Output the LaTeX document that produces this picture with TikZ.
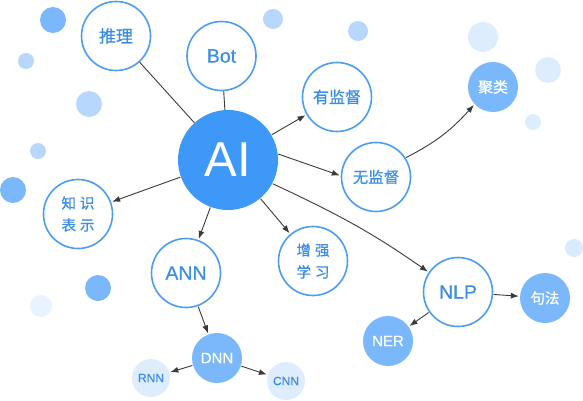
\documentclass[tikz,border=0pt]{standalone}
\usepackage{fontspec}
\setmainfont{Liberation Sans}
\newfontfamily\latn[FakeBold=0.4]{Liberation Sans}
\newfontfamily\cjk[FakeBold=0.7]{Noto Sans CJK SC}
\usetikzlibrary{arrows.meta}
\definecolor{outl}{HTML}{4A9CF4}
\definecolor{txt}{HTML}{3B8DE6}
\definecolor{aiblue}{HTML}{3D98F8}
\definecolor{midblue}{HTML}{7AB8FB}
\definecolor{lightblue}{HTML}{B7D7FD}
\definecolor{paleblue}{HTML}{DDEDFE}
\definecolor{conn}{HTML}{3A3A3A}
\begin{document}
\begin{tikzpicture}[x=1pt,y=-1pt,
  ring/.style={circle,draw=outl,line width=1.6pt,fill=white,text=txt,inner sep=0pt,minimum size=69pt},
  solidbig/.style={circle,fill=aiblue,text=white,inner sep=0pt,minimum size=100pt},
  solidmid/.style={circle,fill=midblue,text=white,inner sep=0pt,minimum size=50pt},
  solidpale/.style={circle,fill=paleblue,text=txt,inner sep=0pt,minimum size=38pt},
  latinL/.style={font=\latn\fontsize{19.5}{22}\selectfont},
  cjkL/.style={font=\cjk\fontsize{17}{20}\selectfont},
  cjkM/.style={font=\cjk\fontsize{15.5}{18}\selectfont},
  cjkTwo/.style={font=\cjk\fontsize{14.5}{22}\selectfont,align=center},
  plainline/.style={draw=conn,line width=0.9pt},
  arr/.style={draw=conn,line width=0.9pt,-{Latex[length=8pt,width=6pt]},shorten >=1pt,shorten <=0.5pt}
]
\useasboundingbox (0,0) rectangle (583,400);
% decorative dots
\fill[midblue] (53,20) circle (13pt);
\fill[lightblue] (26,61) circle (8pt);
\fill[lightblue] (89,104) circle (13pt);
\fill[lightblue] (38,151) circle (8pt);
\fill[midblue] (13,190) circle (13pt);
\fill[midblue] (98,288) circle (13pt);
\fill[paleblue!70!white] (41,306) circle (11pt);
\fill[lightblue] (273,19) circle (10pt);
\fill[lightblue] (358,31) circle (10pt);
\fill[paleblue] (483,37) circle (15pt);
\fill[paleblue] (548,70) circle (13pt);
\fill[paleblue] (533,122) circle (8pt);
\fill[paleblue!90!lightblue] (574,248) circle (9pt);
% nodes
\node[ring,cjkL] (tuili) at (116,36) {推理};
\node[ring,latinL] (bot) at (221.5,56) {Bot};
\node[solidbig,font=\fontsize{49}{50}\selectfont] (ai) at (228,160) {AI};
\node[ring,font=\cjk\fontsize{16}{18}\selectfont] (youjd) at (337,97) {有监督};
\node[solidmid,font=\cjk\fontsize{15}{18}\selectfont] (julei) at (493,87) {聚类};
\node[ring,cjkM] (wujd) at (376,177) {无监督};
\node[ring,cjkTwo] (zhishi) at (78,214) {知\hspace{4pt}识\\表\hspace{4pt}示};
\node[ring,latinL] (ann) at (186,273) {ANN};
\node[solidmid,font=\latn\fontsize{15}{18}\selectfont] (dnn) at (217,358) {DNN};
\node[solidpale,font=\latn\fontsize{12}{14}\selectfont] (rnn) at (151,378) {RNN};
\node[solidpale,font=\latn\fontsize{12}{14}\selectfont] (cnn) at (286,381) {CNN};
\node[ring,cjkTwo] (zengq) at (313,261) {增\hspace{4pt}强\\学\hspace{4pt}习};
\node[ring,latinL] (nlp) at (458,292) {NLP};
\node[solidmid,font=\cjk\fontsize{14.5}{18}\selectfont] (jufa) at (545,298) {句法};
\node[solidmid,font=\latn\fontsize{15}{18}\selectfont] (ner) at (388,341) {NER};
% connectors
\draw[plainline] (tuili) -- (ai);
\draw[plainline] (bot) -- (ai);
\draw[arr] (ai) -- (youjd);
\draw[arr] (ai.7) -- (wujd.178);
\draw[arr] (wujd.33) to[out=27,in=228] (julei.223);
\draw[arr] (ai) -- (zhishi);
\draw[arr] (ai) -- (ann);
\draw[arr] (ai) -- (zengq);
\draw[arr] (ai.-28) to[out=-25,in=145] (nlp.146);
\draw[arr] (ann) -- (dnn);
\draw[arr] (dnn) -- (rnn);
\draw[arr] (dnn) -- (cnn);
\draw[arr] (nlp) -- (jufa);
\draw[arr] (nlp) -- (ner);
\end{tikzpicture}
\end{document}
